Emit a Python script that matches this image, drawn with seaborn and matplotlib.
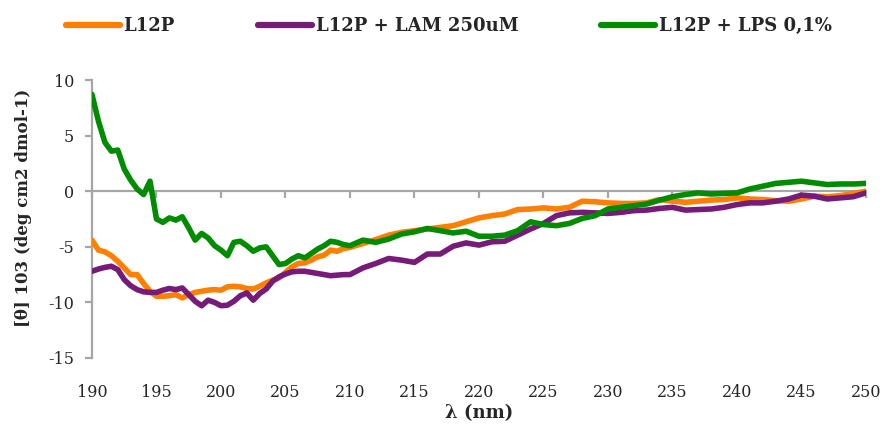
import numpy as np
import pandas as pd
import matplotlib
matplotlib.use("Agg")
import matplotlib.pyplot as plt
import seaborn as sns

# Wavelength grid (nm): 0.5 nm steps up to 209.5, then 1 nm steps to 250
wavelength_lo = np.arange(190.0, 210.0, 0.5)
wavelength_hi = np.arange(210.0, 251.0, 1.0)
wavelength = np.concatenate([wavelength_lo, wavelength_hi])

series_names = ["L12P", "L12P + LAM 250uM", "L12P + LPS 0,1%"]

l12p = [
    -4.4, -5.3, -5.45, -5.8, -6.3, -6.9, -7.5, -7.5, -8.3, -9.0,
    -9.45, -9.45, -9.4, -9.3, -9.6, -9.3, -9.1, -9.0, -8.9, -8.85,
    -8.9, -8.6, -8.55, -8.6, -8.75, -8.8, -8.55, -8.25, -8.0, -7.8,
    -7.3, -6.8, -6.5, -6.45, -6.2, -5.9, -5.75, -5.3, -5.4, -5.15,
    -5.05, -4.7, -4.35, -3.95, -3.7, -3.55, -3.4, -3.25, -3.1, -2.75,
    -2.4, -2.2, -2.05, -1.65, -1.6, -1.5, -1.6, -1.45, -0.9, -0.95,
    -1.05, -1.1, -1.1, -1.05, -0.75, -0.9, -1.0, -0.9, -0.8, -0.75,
    -0.6, -0.7, -0.75, -0.85, -0.9, -0.7, -0.45, -0.5, -0.4, -0.2,
    0.0,
]

l12p_lam = [
    -7.2, -7.0, -6.85, -6.75, -7.05, -7.95, -8.5, -8.85, -9.05, -9.1,
    -9.1, -8.9, -8.75, -8.85, -8.7, -9.3, -9.9, -10.3, -9.8, -10.0,
    -10.3, -10.25, -9.9, -9.4, -9.15, -9.8, -9.2, -8.8, -8.1, -7.7,
    -7.45, -7.25, -7.2, -7.2, -7.3, -7.4, -7.5, -7.6, -7.55, -7.5,
    -7.5, -6.9, -6.5, -6.05, -6.2, -6.4, -5.65, -5.65, -4.95, -4.65,
    -4.85, -4.55, -4.5, -3.95, -3.4, -2.9, -2.2, -1.95, -1.9, -1.95,
    -2.0, -1.9, -1.75, -1.7, -1.55, -1.45, -1.7, -1.65, -1.6, -1.45,
    -1.2, -1.05, -1.05, -0.9, -0.7, -0.35, -0.45, -0.7, -0.6, -0.5,
    -0.15,
]

l12p_lps = [
    8.7, 6.3, 4.4, 3.6, 3.7, 2.0, 1.0, 0.2, -0.3, 0.9,
    -2.5, -2.8, -2.4, -2.6, -2.3, -3.3, -4.4, -3.8, -4.2, -4.9,
    -5.3, -5.8, -4.6, -4.5, -4.9, -5.4, -5.1, -5.0, -5.8, -6.6,
    -6.5, -6.1, -5.8, -6.0, -5.6, -5.2, -4.9, -4.5, -4.6, -4.8,
    -4.9, -4.4, -4.6, -4.3, -3.85, -3.65, -3.35, -3.55, -3.75, -3.6,
    -4.05, -4.05, -3.95, -3.55, -2.75, -3.0, -3.1, -2.9, -2.45, -2.2,
    -1.6, -1.45, -1.3, -1.15, -0.8, -0.5, -0.3, -0.15, -0.25, -0.2,
    -0.15, 0.2, 0.45, 0.7, 0.8, 0.9, 0.75, 0.6, 0.65, 0.65,
    0.7,
]

x_ticks = [190, 195, 200, 205, 210, 215, 220, 225, 230, 235, 240, 245, 250]
y_ticks = [-15, -10, -5, 0, 5, 10]

colors = ["#FF8000", "#771B78", "#008C00"]

frames = []
for name, values in zip(series_names, [l12p, l12p_lam, l12p_lps]):
    frames.append(pd.DataFrame({"wavelength": wavelength, "theta": values, "sample": name}))
df = pd.concat(frames, ignore_index=True)

sns.set_theme(style="white")
plt.rcParams["font.family"] = ["DejaVu Serif"]

fig = plt.figure(figsize=(8.87, 4.32), dpi=100)
ax = fig.add_axes([0.1037, 0.1713, 0.8726, 0.6435])

axis_gray = "#A6A6A6"

sns.lineplot(data=df, x="wavelength", y="theta", hue="sample",
             hue_order=series_names, palette=colors, linewidth=4.0,
             estimator=None, sort=False, legend=False, ax=ax, zorder=3)
for ln in ax.get_lines():
    ln.set_solid_capstyle("round")
    ln.set_solid_joinstyle("round")

ax.set_xlim(190, 250)
ax.set_ylim(-15, 10)
ax.set_xticks(x_ticks)
ax.set_yticks(y_ticks)
ax.set_xticklabels([str(t) for t in x_ticks])
ax.set_yticklabels([str(t) for t in y_ticks])

for side in ["top", "right", "bottom"]:
    ax.spines[side].set_visible(False)
ax.spines["left"].set_color(axis_gray)
ax.spines["left"].set_linewidth(1.6)

ax.tick_params(axis="y", direction="out", length=5, width=1.6, color=axis_gray,
               labelsize=11.5, pad=8, left=True)
ax.tick_params(axis="x", length=0, labelsize=11.5, pad=19, bottom=False)

# category axis crossing at zero, with tick marks hanging below it
sec = ax.secondary_xaxis(0, transform=ax.transData)
sec.set_zorder(1)
sec.set_xticks(x_ticks)
sec.tick_params(axis="x", direction="out", length=5, width=1.6, color=axis_gray,
                bottom=True, labelbottom=False)
sec.spines["bottom"].set_color(axis_gray)
sec.spines["bottom"].set_linewidth(1.6)

ax.set_xlabel("λ (nm)", fontsize=13, fontweight="bold")
ax.xaxis.set_label_coords(0.5, -0.165)
ax.set_ylabel("[θ] 103 (deg cm2 dmol-1)", fontsize=12, fontweight="bold")
ax.yaxis.set_label_coords(-0.077, 0.54)

handles = ax.get_lines()[:3]
leg = fig.legend(handles, series_names, loc="center", bbox_to_anchor=(0.506, 0.94),
                 ncol=3, frameon=False, handlelength=3.0, handletextpad=0.2,
                 columnspacing=4.6, prop={"family": ["DejaVu Serif"], "weight": "bold", "size": 13})
for lh in leg.get_lines():
    lh.set_linewidth(4.5)
    lh.set_solid_capstyle("round")

fig.savefig("out.png", dpi=100)
